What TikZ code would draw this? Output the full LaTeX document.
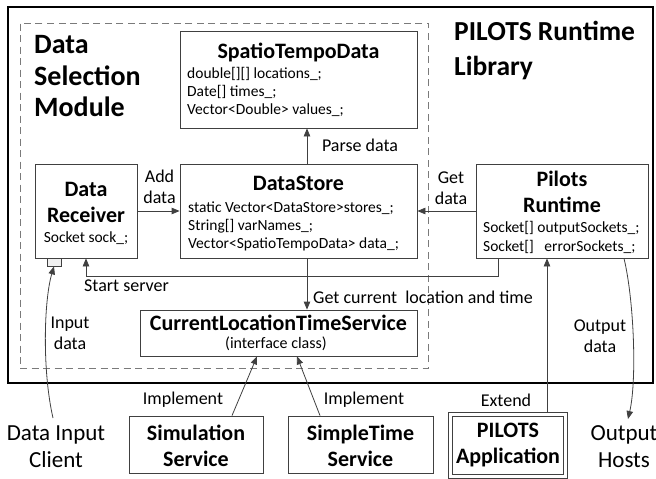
\documentclass[tikz,border=0pt]{standalone}
\usepackage{fontspec}
\setmainfont{Carlito}
\usetikzlibrary{arrows.meta}
\definecolor{linegray}{HTML}{404040}
\definecolor{dashgray}{HTML}{7A7A7A}
\tikzset{
  classbox/.style={draw=linegray,line width=0.8pt,inner sep=0pt},
  classname/.style={font=\bfseries\fontsize{22}{26}\selectfont,align=center,inner sep=0pt},
  members/.style={font=\fontsize{15.5}{18}\selectfont,align=left,inner sep=0pt,anchor=west},
  flowlabel/.style={font=\fontsize{18}{21}\selectfont,align=center,inner sep=0pt},
  flow/.style={-{Triangle[length=8pt,width=6.5pt]},draw=linegray,line width=0.8pt},
  endpoint/.style={font=\fontsize{23}{27}\selectfont,align=center,inner sep=0pt},
}
\begin{document}
\begin{tikzpicture}[x=1pt,y=-1pt]
  \useasboundingbox (0,0) rectangle (656,479);
  % library and module frames
  \node[draw=black,line width=2pt,minimum width=645pt,minimum height=376pt] (runtime) at (330,195) {};
  \node[draw=dashgray,line width=1pt,dash pattern=on 7pt off 4.5pt,minimum width=408pt,minimum height=345pt] (module) at (224,195.5) {};
  \node[font=\bfseries\fontsize{28}{31.5}\selectfont,align=left,anchor=west,inner sep=0pt] (modname) at (34,76.5) {Data\\Selection\\Module};
  \node[font=\bfseries\fontsize{27.5}{35}\selectfont,align=left,anchor=west,inner sep=0pt] (libname) at (454,50.5) {PILOTS Runtime\\Library};
  % classes
  \node[classbox,minimum width=237pt,minimum height=97pt] (std) at (298.5,79.5) {};
  \node[classname] at (298.5,52) {SpatioTempoData};
  \node[members] at (187,91.5) {double[][] locations\_;\\Date[] times\_;\\Vector<Double> values\_;};
  \node[classbox,minimum width=102pt,minimum height=94pt] (recv) at (86,211) {};
  \node[classname] at (86,202) {Data\\Receiver};
  \node[members,anchor=center] at (86,238) {Socket sock\_;};
  \node[classbox,fill=gray!12,minimum width=14pt,minimum height=8pt] (port) at (54,262) {};
  \node[classbox,minimum width=237pt,minimum height=94pt] (store) at (298.5,211) {};
  \node[classname] at (298.5,183) {DataStore};
  \node[members] at (188,226) {static Vector<DataStore>stores\_;\\String[] varNames\_;\\Vector<SpatioTempoData> data\_;};
  \node[classbox,minimum width=172pt,minimum height=94pt] (pilots) at (562,211) {};
  \node[classname] at (562,192) {Pilots\\Runtime};
  \node[members,font=\fontsize{15.5}{19}\selectfont] at (483,237.5) {Socket[] outputSockets\_;\\Socket[]\ \ \ errorSockets\_;};
  \node[classbox,minimum width=277pt,minimum height=46pt] (clts) at (278.5,333) {};
  \node[classname] at (278.5,323) {CurrentLocationTimeService};
  \node[members,anchor=center,font=\fontsize{16}{18}\selectfont] at (276,344) {(interface class)};
  \node[classbox,minimum width=134pt,minimum height=57pt] (sim) at (196,444.5) {};
  \node[classname] at (196,445.5) {Simulation\\Service};
  \node[classbox,minimum width=145pt,minimum height=57pt] (simple) at (360.5,444.5) {};
  \node[classname] at (360.5,445.5) {SimpleTime\\Service};
  \node[classbox,double=white,double distance=3.4pt,minimum width=115pt,minimum height=62pt] (app) at (508,445.5) {};
  \node[classname] at (508,445.5) {PILOTS\\Application};
  % outside ends
  \node[endpoint] (client) at (56,446.5) {Data Input\\Client};
  \node[endpoint] (hosts) at (624,446.5) {Output\\Hosts};
  \coordinate (clienttop) at (53,418);
  \coordinate (hoststop) at (628,419);
  % connectors
  \draw[flow] ([xshift=8.5pt]store.north) -- ([xshift=8.5pt]store.north |- std.south);
  \node[flowlabel] at (360,145) {Parse data};
  \draw[flow] (recv.east) -- (store.west);
  \node[flowlabel] at (159.5,187) {Add\\data};
  \draw[flow] (pilots.west) -- (store.east);
  \node[flowlabel] at (451,188) {Get\\data};
  \draw[flow] ([xshift=-64pt]pilots.south) |- ([yshift=-18pt]recv.south) -- (recv.south);
  \node[flowlabel,anchor=west] at (84,286) {Start server};
  \draw[flow] ([xshift=8.5pt]store.south) -- ([xshift=8.5pt]store.south |- clts.north);
  \node[flowlabel,anchor=west] at (313,297) {Get current\ \ location and time};
  \draw[flow] (clienttop) .. controls (42,370) and (44,300) .. (port.south);
  \node[flowlabel] at (70,333) {Input\\data};
  \draw[flow] ([xshift=36pt]sim.north) -- ([xshift=-21.5pt]clts.south);
  \node[flowlabel] at (183,400) {Implement};
  \draw[flow] ([xshift=-40.5pt]simple.north) -- ([xshift=18.5pt]clts.south);
  \node[flowlabel] at (364,400) {Implement};
  \draw[flow] ([xshift=39pt,yshift=2pt]app.north) -- ([xshift=39pt]app.north |- pilots.south);
  \node[flowlabel] at (506,400) {Extend};
  \draw[flow] ([xshift=62pt]pilots.south) .. controls (634,300) and (637,380) .. (hoststop);
  \node[flowlabel] at (600,336.5) {Output\\data};
\end{tikzpicture}
\end{document}
